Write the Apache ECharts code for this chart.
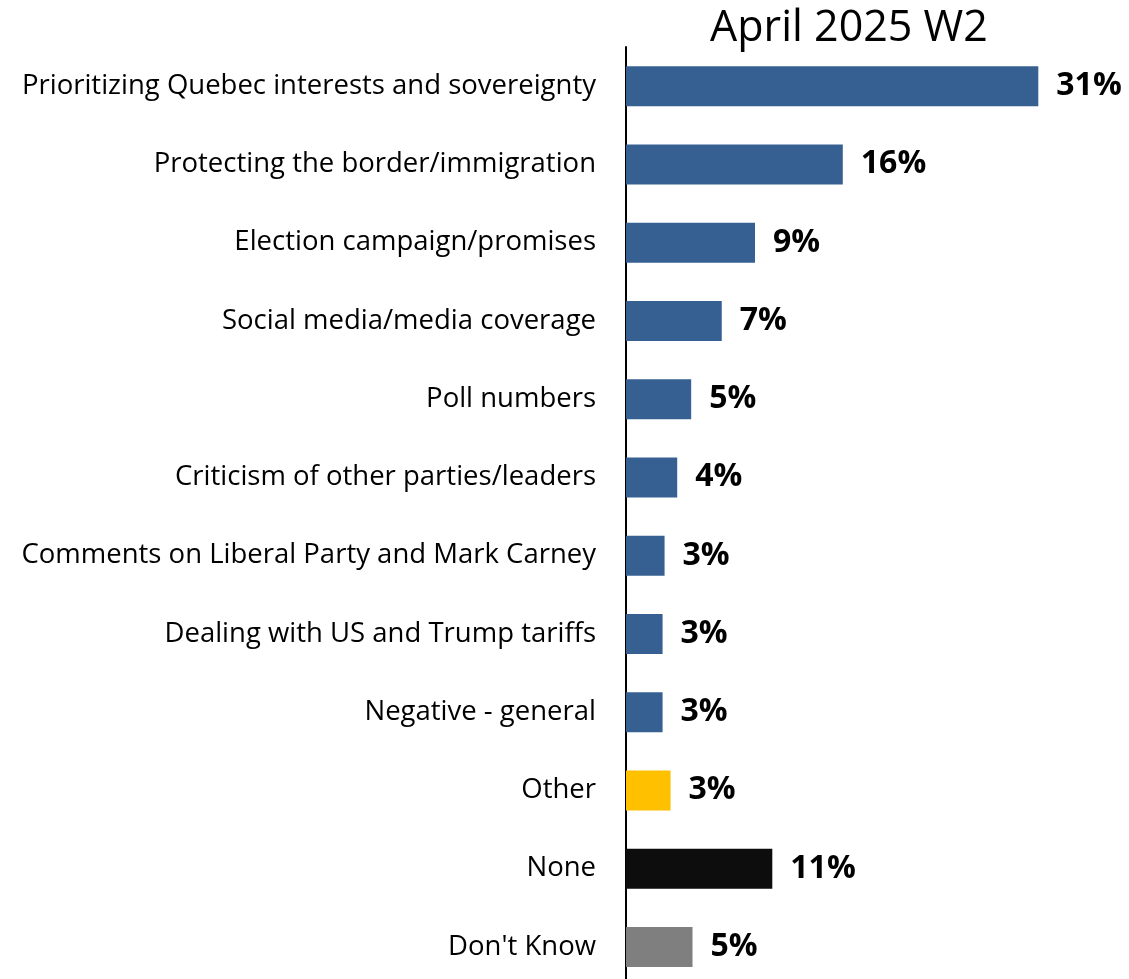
<!DOCTYPE html>
<html>
<head>
<meta charset="utf-8">
<script src="https://cdn.jsdelivr.net/npm/echarts@6/dist/echarts.min.js"></script>
<style>
html,body{margin:0;padding:0;background:#fff;}
#chart{width:1129px;height:979px;}
</style>
</head>
<body>
<div id="chart"></div>
<script>
const titleText = 'April 2025 W2';
const categories = [
  'Prioritizing Quebec interests and sovereignty',
  'Protecting the border/immigration',
  'Election campaign/promises',
  'Social media/media coverage',
  'Poll numbers',
  'Criticism of other parties/leaders',
  'Comments on Liberal Party and Mark Carney',
  'Dealing with US and Trump tariffs',
  'Negative - general',
  'Other',
  'None',
  "Don't Know"
];
const values = [31, 16.3, 9.7, 7.2, 4.9, 3.85, 2.9, 2.75, 2.75, 3.35, 11, 5];
const valueLabels = ['31%', '16%', '9%', '7%', '5%', '4%', '3%', '3%', '3%', '3%', '11%', '5%'];
const barColors = ['#376092','#376092','#376092','#376092','#376092','#376092','#376092','#376092','#376092','#FFC000','#0D0D0D','#7F7F7F'];

const FONT = '"Open Sans", sans-serif';
const chart = echarts.init(document.getElementById('chart'), null, {renderer: 'canvas'});
chart.setOption({
  animation: false,
  backgroundColor: '#ffffff',
  title: {
    text: titleText,
    left: 844,
    top: 2,
    textAlign: 'center',
    textStyle: {fontFamily: FONT, fontSize: 43, fontWeight: 'normal', color: '#000'}
  },
  grid: {left: 626, top: 47, width: 532, height: 939, containLabel: false, outerBoundsMode: 'none'},
  xAxis: {
    type: 'value', min: 0, max: 40, show: false
  },
  yAxis: {
    type: 'category',
    data: categories,
    inverse: true,
    axisLine: {show: true, lineStyle: {color: '#000', width: 2}},
    axisTick: {show: false},
    axisLabel: {fontFamily: FONT, fontSize: 27.5, color: '#000', margin: 30}
  },
  series: [{
    type: 'bar',
    barWidth: 40,
    data: values.map((v, i) => ({value: v, itemStyle: {color: barColors[i]}})),
    label: {
      show: true,
      position: 'right',
      distance: 18,
      fontFamily: FONT,
      fontSize: 32,
      fontWeight: 'bold',
      color: '#000',
      formatter: p => valueLabels[p.dataIndex]
    }
  }]
});
</script>
</body>
</html>
